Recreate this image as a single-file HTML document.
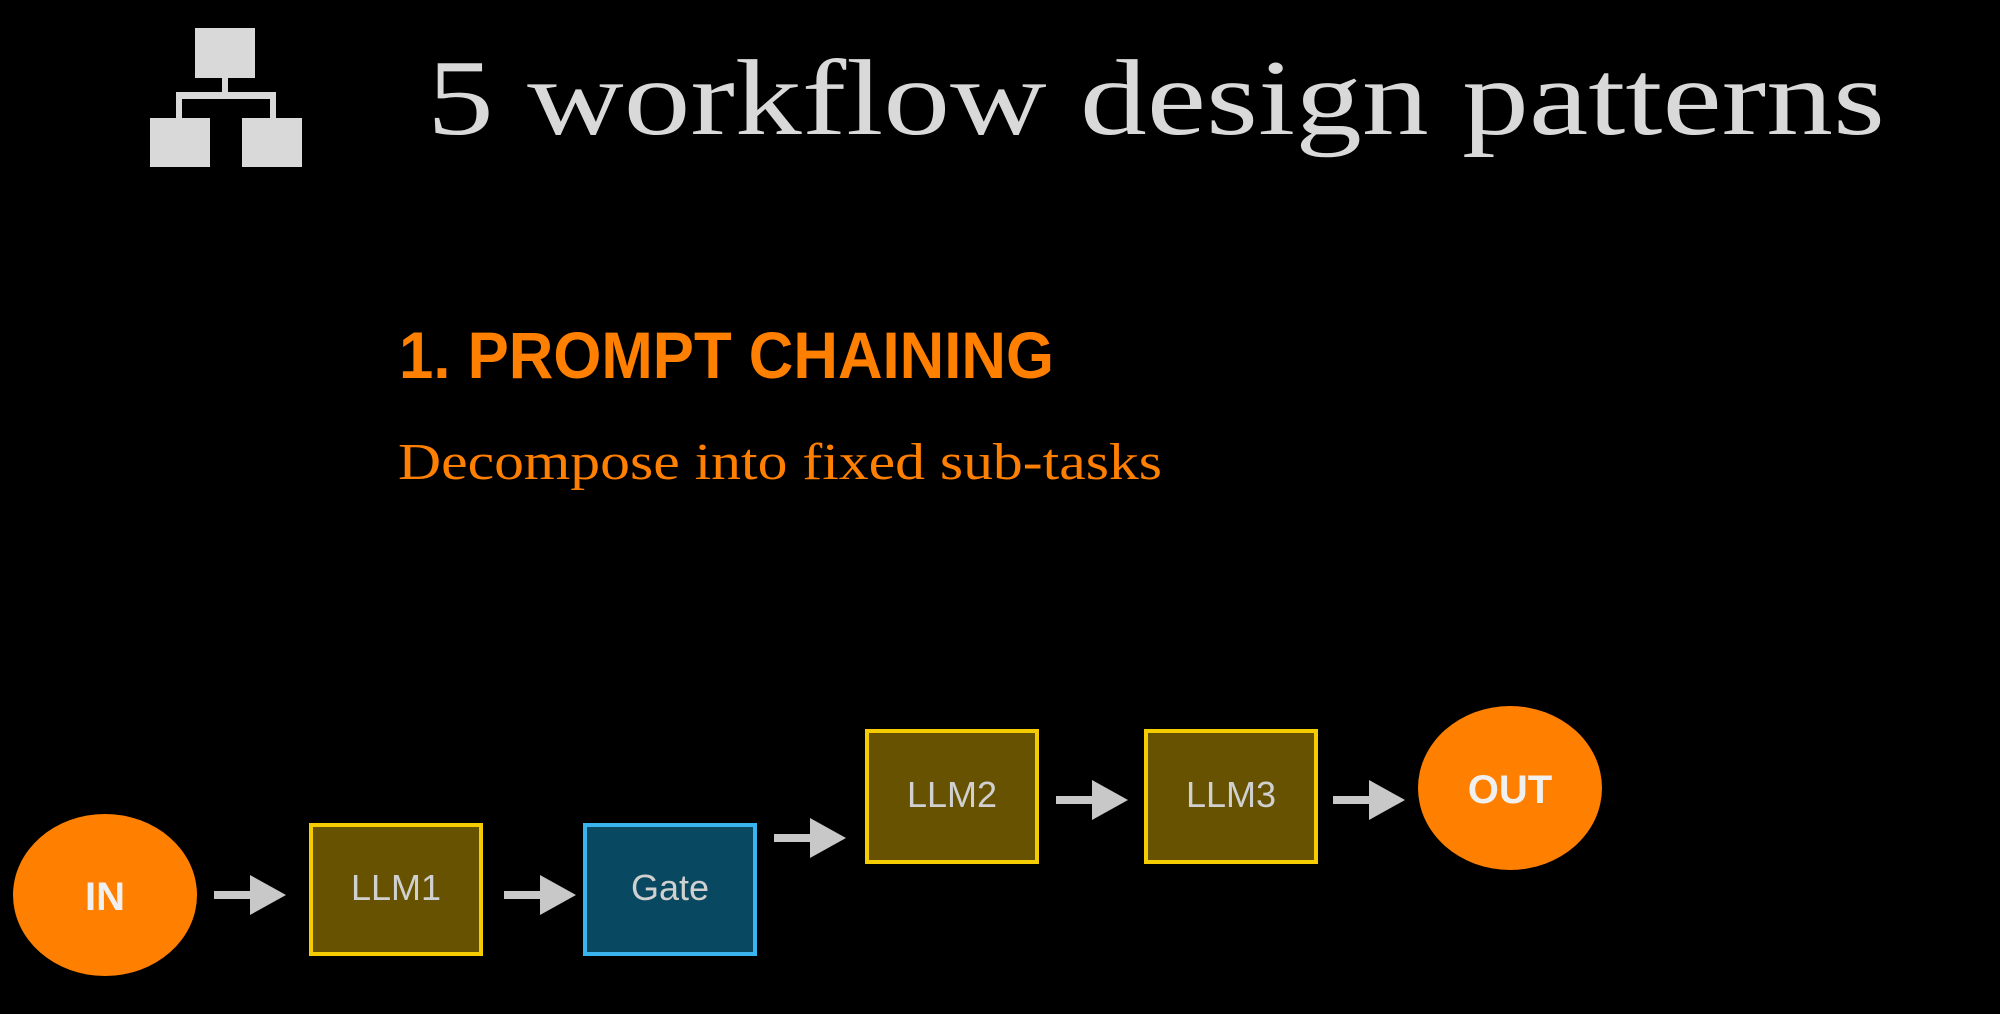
<!DOCTYPE html>
<html><head><meta charset="utf-8"><style>
html,body{margin:0;padding:0;background:#000;}
svg{display:block;}
</style></head><body>
<svg width="2000" height="1014" viewBox="0 0 2000 1014" xmlns="http://www.w3.org/2000/svg">
<rect width="2000" height="1014" fill="#000"/>
<!-- icon -->
<g fill="#d9d9d9">
<rect x="195" y="28" width="60" height="50"/>
<rect x="222" y="78" width="6" height="14"/>
<rect x="176" y="92" width="100" height="7"/>
<rect x="176" y="92" width="6" height="26"/>
<rect x="270" y="92" width="6" height="26"/>
<rect x="150" y="118" width="60" height="49"/>
<rect x="242" y="118" width="60" height="49"/>
</g>
<text x="427" y="134" font-family="'Liberation Serif',serif" font-size="108" fill="#d9d9d9" textLength="1458" lengthAdjust="spacingAndGlyphs">5 workflow design patterns</text>
<text x="399" y="378" font-family="'Liberation Sans',sans-serif" font-weight="bold" font-size="66" fill="#ff7f00" textLength="655" lengthAdjust="spacingAndGlyphs">1. PROMPT CHAINING</text>
<text x="398" y="479" font-family="'Liberation Serif',serif" font-size="52" fill="#ff7f00" textLength="764" lengthAdjust="spacingAndGlyphs">Decompose into fixed sub-tasks</text>
<!-- nodes -->
<ellipse cx="105" cy="895" rx="92" ry="81" fill="#ff7f00"/>
<text x="105" y="910" text-anchor="middle" font-family="'Liberation Sans',sans-serif" font-weight="bold" font-size="40" fill="#f0f0f0">IN</text>
<ellipse cx="1510" cy="788" rx="92" ry="82" fill="#ff7f00"/>
<text x="1510" y="803" text-anchor="middle" font-family="'Liberation Sans',sans-serif" font-weight="bold" font-size="40" fill="#f0f0f0">OUT</text>
<g font-family="'Liberation Sans',sans-serif" font-size="36" fill="#d0d0d0" text-anchor="middle">
<rect x="311" y="825" width="170" height="129" fill="#665200" stroke="#f5cc00" stroke-width="4"/>
<text x="396" y="900">LLM1</text>
<rect x="585" y="825" width="170" height="129" fill="#084860" stroke="#3ab4ee" stroke-width="4"/>
<text x="670" y="900">Gate</text>
<rect x="867" y="731" width="170" height="131" fill="#665200" stroke="#f5cc00" stroke-width="4"/>
<text x="952" y="807">LLM2</text>
<rect x="1146" y="731" width="170" height="131" fill="#665200" stroke="#f5cc00" stroke-width="4"/>
<text x="1231" y="807">LLM3</text>
</g>
<!-- arrows -->
<g fill="#c8c8c8">
<g transform="translate(214,895)"><rect x="0" y="-4" width="40" height="8"/><polygon points="36,-20 72,0 36,20"/></g>
<g transform="translate(504,895)"><rect x="0" y="-4" width="40" height="8"/><polygon points="36,-20 72,0 36,20"/></g>
<g transform="translate(774,838)"><rect x="0" y="-4" width="40" height="8"/><polygon points="36,-20 72,0 36,20"/></g>
<g transform="translate(1056,800)"><rect x="0" y="-4" width="40" height="8"/><polygon points="36,-20 72,0 36,20"/></g>
<g transform="translate(1333,800)"><rect x="0" y="-4" width="40" height="8"/><polygon points="36,-20 72,0 36,20"/></g>
</g>
</svg>
</body></html>
